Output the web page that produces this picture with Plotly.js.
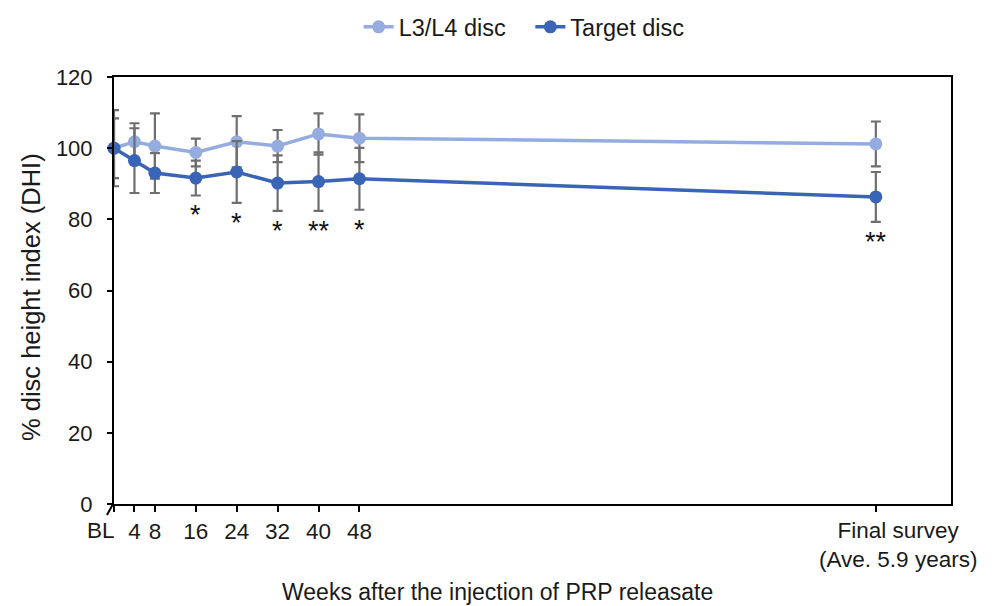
<!DOCTYPE html>
<html>
<head>
<meta charset="utf-8">
<script src="https://cdn.plot.ly/plotly-3.0.1.min.js"></script>
<style>html,body{margin:0;padding:0;background:#fff;}#chart{width:997px;height:606px;}</style>
</head>
<body>
<div id="chart"></div>
<script>
// x positions (weeks after injection); final survey placed on the same axis
const weeks = [0, 4, 8, 16, 24, 32, 40, 48, 149];
const tickVals = [0, 4, 8, 16, 24, 32, 40, 48, 149];
const tickLabels = ["", "4", "8", "16", "24", "32", "40", "48", ""];
const baselineLabel = "BL";
const finalLabel = "Final survey<br>(Ave. 5.9 years)";
const xTitle = "Weeks after the injection of PRP releasate";
const yTitle = "% disc height index (DHI)";
const seriesNames = ["L3/L4 disc", "Target disc"];

const l34Values = [100, 101.8, 100.6, 98.8, 101.8, 100.6, 104.0, 102.8, 101.2];
const l34Err    = [8.4, 5.2, 9.2, 3.9, 7.2, 4.5, 5.8, 6.7, 6.3];
const targetValues = [100, 96.5, 93.0, 91.6, 93.3, 90.2, 90.6, 91.4, 86.3];
const targetErr    = [10.7, 9.1, 5.6, 4.9, 8.7, 7.8, 8.2, 8.7, 7.0];

const sigWeeks = [16, 24, 32, 40, 48, 149];
const sigLabels = ["*", "*", "*", "**", "*", "**"];

const FONT = "Liberation Sans, Arial, sans-serif";
const TXT = "#1a1a1a";
const errStyle = {color: "#6e6e6e", thickness: 2.2, width: 5};

const traces = [
  {
    x: weeks, y: l34Values, name: seriesNames[0] + "\u00a0\u00a0\u00a0", type: "scatter", mode: "lines+markers",
    line: {color: "#94acdf", width: 3.5},
    marker: {color: "#94acdf", size: 13},
    error_y: Object.assign({type: "data", array: l34Err, visible: true}, errStyle),
    cliponaxis: false
  },
  {
    x: weeks, y: targetValues, name: seriesNames[1], type: "scatter", mode: "lines+markers",
    line: {color: "#3a64b5", width: 3.5},
    marker: {color: "#3a64b5", size: 13},
    error_y: Object.assign({type: "data", array: targetErr, visible: true}, errStyle),
    cliponaxis: false
  }
];

const annotations = sigWeeks.map((w, i) => {
  const idx = weeks.indexOf(w);
  return {
    x: w, y: targetValues[idx] - targetErr[idx], xref: "x", yref: "y",
    text: sigLabels[i], showarrow: false, yanchor: "top", yshift: -3,
    font: {family: FONT, size: 27, color: "#111"}
  };
});
annotations.push({
  x: 0, y: 0, xref: "x", yref: "paper", text: baselineLabel, showarrow: false,
  yanchor: "top", xshift: -13, yshift: -12, font: {family: FONT, size: 22.5, color: TXT}
});
annotations.push({
  x: 149, y: 0, xref: "x", yref: "paper", text: finalLabel, showarrow: false,
  yanchor: "top", xshift: 22, yshift: -12, font: {family: FONT, size: 22.5, color: TXT}
});
annotations.push({
  x: 0.4576, y: -0.205, xref: "paper", yref: "paper", text: xTitle, showarrow: false,
  xanchor: "center", yanchor: "middle", font: {family: FONT, size: 23, color: TXT}
});
annotations.push({
  x: -0.099, y: 0.485, xref: "paper", yref: "paper", text: yTitle, showarrow: false,
  textangle: -90, xanchor: "center", yanchor: "middle", font: {family: FONT, size: 25.5, color: TXT}
});

const layout = {
  width: 997, height: 606,
  margin: {l: 114, r: 46, t: 77, b: 102, autoexpand: false},
  paper_bgcolor: "#fff", plot_bgcolor: "#fff",
  font: {family: FONT, size: 22, color: TXT},
  showlegend: true,
  legend: {orientation: "h", x: 0.49, xanchor: "center", y: 1.117, yanchor: "middle",
           font: {family: FONT, size: 23.5, color: TXT}},
  xaxis: {
    range: [0, 163.7], showgrid: false, zeroline: false,
    showline: true, linecolor: "#000", linewidth: 2, mirror: true,
    ticks: "outside", ticklen: 6, tickwidth: 2, tickcolor: "#000",
    tickmode: "array", tickvals: tickVals, ticktext: tickLabels,
    tickfont: {family: FONT, size: 22.5, color: TXT}
  },
  yaxis: {
    range: [0, 120], dtick: 20, showgrid: false, zeroline: false,
    showline: true, linecolor: "#000", linewidth: 2, mirror: true,
    ticks: "outside", ticklen: 5, tickwidth: 2, tickcolor: "#000",
    ticklabelstandoff: 10,
    tickfont: {family: FONT, size: 22, color: TXT}
  },
  annotations: annotations,
  shapes: [
    {type: "line", xref: "paper", yref: "paper", x0: -0.0084, y0: -0.026, x1: -0.0012, y1: 0,
     line: {color: "#000", width: 2}}
  ]
};

Plotly.newPlot("chart", traces, layout, {displayModeBar: false, staticPlot: true});
</script>
</body>
</html>
